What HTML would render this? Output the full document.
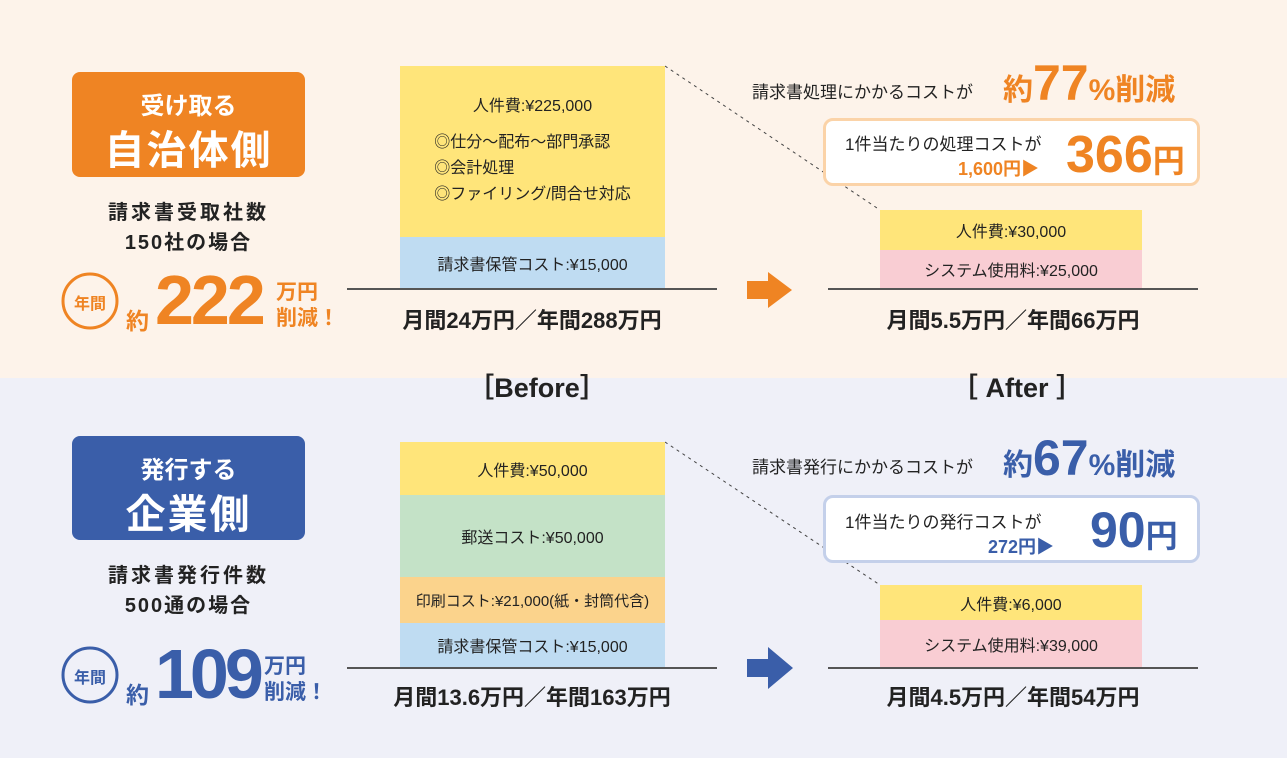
<!DOCTYPE html>
<html><head><meta charset="utf-8"><style>
*{margin:0;padding:0;box-sizing:border-box}
body{width:1287px;height:758px;position:relative;overflow:hidden;font-family:"Liberation Sans","Noto Sans CJK JP",sans-serif;color:#222}
.a{position:absolute}
.c{position:absolute;text-align:center;white-space:nowrap}
.b{font-weight:bold}
.seg{position:absolute;display:flex;align-items:center;justify-content:center;font-size:16px;white-space:nowrap}
.line{position:absolute;height:1.5px;background:#555}
</style></head><body>
<div class="a" style="left:0;top:0;width:1287px;height:378px;background:#fdf3ea"></div>
<div class="a" style="left:0;top:378px;width:1287px;height:380px;background:#eff0f8"></div>

<svg class="a" style="left:0;top:0" width="1287" height="758">
<line x1="665" y1="66" x2="880" y2="210" stroke="#444" stroke-width="1" stroke-dasharray="3,4"/>
<line x1="665" y1="442" x2="880" y2="585" stroke="#444" stroke-width="1" stroke-dasharray="3,4"/>
<polygon points="747,281 768,281 768,272 792,290 768,308 768,299 747,299" fill="#ef8423"/>
<polygon points="747,659 768,659 768,647 793,668 768,689 768,677 747,677" fill="#3a5ea9"/>
<circle cx="90" cy="301" r="27" fill="none" stroke="#ef8423" stroke-width="3"/>
<circle cx="90" cy="675" r="27" fill="none" stroke="#3a5ea9" stroke-width="3"/>
</svg>

<!-- TOP LEFT -->
<div class="a" style="left:72px;top:72px;width:233px;height:105px;background:#ef8423;border-radius:8px"></div>
<div class="c b" style="left:72px;width:233px;top:86px;font-size:24px;color:#fff">受け取る</div>
<div class="c b" style="left:72px;width:233px;top:118px;font-size:40px;color:#fff;letter-spacing:2px">自治体側</div>
<div class="c b" style="left:72px;width:233px;top:196px;font-size:20px;letter-spacing:3px">請求書受取社数</div>
<div class="c b" style="left:72px;width:233px;top:226px;font-size:20px;letter-spacing:2px">150社の場合</div>
<div class="c b" style="left:63px;width:54px;top:290px;font-size:16px;color:#ef8423">年間</div>
<div class="a b" style="left:126px;top:302px;font-size:23px;color:#ef8423">約</div>
<div class="a b" style="left:155px;top:262px;font-size:70px;color:#ef8423;letter-spacing:-3px;line-height:76px">222</div>
<div class="a b" style="left:276px;top:280px;font-size:21px;color:#ef8423;line-height:26px">万円<br>削減！</div>

<!-- TOP BEFORE -->
<div class="seg" style="left:400px;top:66px;width:265px;height:171px;background:#ffe57a;flex-direction:column;align-items:center">
<div style="margin-top:-4px;margin-bottom:14px">人件費:¥225,000</div>
<div style="text-align:left;line-height:26px">◎仕分～配布～部門承認<br>◎会計処理<br>◎ファイリング/問合せ対応</div></div>
<div class="seg" style="left:400px;top:237px;width:265px;height:51px;background:#bfdcf2">請求書保管コスト:¥15,000</div>
<div class="line" style="left:347px;top:288px;width:370px"></div>
<div class="c b" style="left:347px;width:370px;top:303px;font-size:22px">月間24万円／年間288万円</div>

<!-- TOP AFTER -->
<div class="a" style="left:752px;top:78px;font-size:17px">請求書処理にかかるコストが</div>
<div class="a b" style="left:1003px;top:56px;font-size:50px;color:#ef8423;white-space:nowrap;line-height:54px"><span style="font-size:30px">約</span>77<span style="font-size:30px">%削減</span></div>
<div class="a" style="left:823px;top:118px;width:377px;height:68px;background:#fff;border:3px solid #fbd3a8;border-radius:10px"></div>
<div class="a" style="left:845px;top:130px;font-size:17px">1件当たりの処理コストが</div>
<div class="a b" style="left:958px;top:155px;font-size:18px;color:#ef8423">1,600円▶</div>
<div class="a b" style="left:1066px;top:126px;font-size:52px;color:#ef8423;line-height:58px;white-space:nowrap">366<span style="font-size:32px">円</span></div>
<div class="seg" style="left:880px;top:210px;width:262px;height:40px;background:#ffe57a">人件費:¥30,000</div>
<div class="seg" style="left:880px;top:250px;width:262px;height:38px;background:#f9cdd3">システム使用料:¥25,000</div>
<div class="line" style="left:828px;top:288px;width:370px"></div>
<div class="c b" style="left:828px;width:370px;top:303px;font-size:22px">月間5.5万円／年間66万円</div>

<div class="c b" style="left:437px;width:200px;top:366px;font-size:27px">［Before］</div>
<div class="c b" style="left:917px;width:200px;top:366px;font-size:27px">［ After ］</div>

<!-- BOTTOM LEFT -->
<div class="a" style="left:72px;top:436px;width:233px;height:104px;background:#3a5ea9;border-radius:8px"></div>
<div class="c b" style="left:72px;width:233px;top:450px;font-size:24px;color:#fff">発行する</div>
<div class="c b" style="left:72px;width:233px;top:482px;font-size:40px;color:#fff;letter-spacing:2px">企業側</div>
<div class="c b" style="left:72px;width:233px;top:559px;font-size:20px;letter-spacing:3px">請求書発行件数</div>
<div class="c b" style="left:72px;width:233px;top:589px;font-size:20px;letter-spacing:2px">500通の場合</div>
<div class="c b" style="left:63px;width:54px;top:664px;font-size:16px;color:#3a5ea9">年間</div>
<div class="a b" style="left:126px;top:676px;font-size:23px;color:#3a5ea9">約</div>
<div class="a b" style="left:155px;top:636px;font-size:70px;color:#3a5ea9;letter-spacing:-4px;line-height:76px">109</div>
<div class="a b" style="left:264px;top:654px;font-size:21px;color:#3a5ea9;line-height:26px">万円<br>削減！</div>

<!-- BOTTOM BEFORE -->
<div class="seg" style="left:400px;top:442px;width:265px;height:53px;background:#ffe57a">人件費:¥50,000</div>
<div class="seg" style="left:400px;top:495px;width:265px;height:82px;background:#c4e2c7">郵送コスト:¥50,000</div>
<div class="seg" style="left:400px;top:577px;width:265px;height:46px;background:#fbd38c;font-size:15px">印刷コスト:¥21,000(紙・封筒代含)</div>
<div class="seg" style="left:400px;top:623px;width:265px;height:44px;background:#bfdcf2">請求書保管コスト:¥15,000</div>
<div class="line" style="left:347px;top:667px;width:370px"></div>
<div class="c b" style="left:347px;width:370px;top:680px;font-size:22px">月間13.6万円／年間163万円</div>

<!-- BOTTOM AFTER -->
<div class="a" style="left:752px;top:453px;font-size:17px">請求書発行にかかるコストが</div>
<div class="a b" style="left:1003px;top:431px;font-size:50px;color:#3a5ea9;white-space:nowrap;line-height:54px"><span style="font-size:30px">約</span>67<span style="font-size:30px">%削減</span></div>
<div class="a" style="left:823px;top:495px;width:377px;height:68px;background:#fff;border:3px solid #c4d0ea;border-radius:10px"></div>
<div class="a" style="left:845px;top:508px;font-size:17px">1件当たりの発行コストが</div>
<div class="a b" style="left:988px;top:533px;font-size:18px;color:#3a5ea9">272円▶</div>
<div class="a b" style="left:1090px;top:502px;font-size:50px;color:#3a5ea9;line-height:56px;white-space:nowrap">90<span style="font-size:32px">円</span></div>
<div class="seg" style="left:880px;top:585px;width:262px;height:35px;background:#ffe57a">人件費:¥6,000</div>
<div class="seg" style="left:880px;top:620px;width:262px;height:47px;background:#f9cdd3">システム使用料:¥39,000</div>
<div class="line" style="left:828px;top:667px;width:370px"></div>
<div class="c b" style="left:828px;width:370px;top:680px;font-size:22px">月間4.5万円／年間54万円</div>
</body></html>
